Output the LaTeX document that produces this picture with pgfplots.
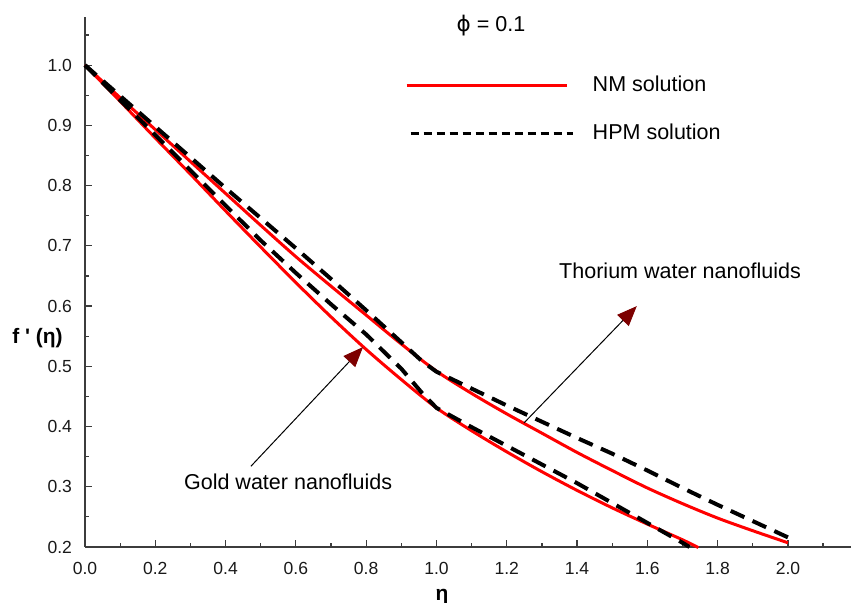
\documentclass[border=0pt]{standalone}
\usepackage{fontspec}
\setmainfont{Liberation Sans}
\newfontfamily\dejavu{DejaVu Sans}
\usepackage{pgfplots}
\pgfplotsset{compat=1.18}
\usetikzlibrary{arrows.meta}
\definecolor{axisgray}{RGB}{60,60,60}
\definecolor{maroonhead}{RGB}{125,0,0}
\definecolor{nmred}{RGB}{255,0,0}

\pgfplotstableread{
x y
0 1.000
0.1 0.946
0.2 0.893
0.3 0.840
0.4 0.787
0.5 0.734
0.6 0.682
0.7 0.633
0.8 0.585
0.9 0.537
1.0 0.492
1.1 0.455
1.2 0.421
1.3 0.389
1.4 0.357
1.5 0.327
1.6 0.298
1.7 0.272
1.8 0.248
1.9 0.227
2.0 0.207
}\thoriumNM

\pgfplotstableread{
x y
0 1.000
0.1 0.940
0.2 0.879
0.3 0.819
0.4 0.758
0.5 0.698
0.6 0.639
0.7 0.582
0.8 0.528
0.9 0.478
1.0 0.431
1.1 0.393
1.2 0.358
1.3 0.325
1.4 0.294
1.5 0.265
1.6 0.238
1.7 0.212
1.745 0.199
}\goldNM

\pgfplotstableread{
x y
0 1.000
0.2 0.898
0.4 0.796
0.6 0.696
0.7 0.645
0.8 0.593
0.9 0.540
0.96 0.508
1.0 0.491
1.05 0.477
1.1 0.463
1.2 0.435
1.3 0.408
1.4 0.381
1.5 0.355
1.6 0.327
1.7 0.298
1.8 0.270
1.9 0.243
2.0 0.216
}\thoriumHPM

\pgfplotstableread{
x y
0 1.000
0.2 0.884
0.4 0.767
0.5 0.709
0.6 0.655
0.7 0.603
0.8 0.553
0.9 0.496
0.96 0.455
1.0 0.431
1.05 0.415
1.1 0.399
1.2 0.368
1.3 0.337
1.4 0.306
1.5 0.273
1.6 0.240
1.7 0.207
1.72 0.200
}\goldHPM

\begin{document}
\begin{tikzpicture}
\begin{axis}[
  scale only axis, width=383.1bp, height=265bp,
  xmin=0, xmax=2.18, ymin=0.2, ymax=1.08,
  axis x line*=bottom, axis y line*=left,
  axis line style={axisgray, line width=0.9bp},
  xtick={0,0.2,0.4,0.6,0.8,1.0,1.2,1.4,1.6,1.8,2.0},
  minor xtick={0.1,0.3,0.5,0.7,0.9,1.1,1.3,1.5,1.7,1.9,2.1},
  ytick={0.2,0.3,0.4,0.5,0.6,0.7,0.8,0.9,1.0},
  minor ytick={0.25,0.35,0.45,0.55,0.65,0.75,0.85,0.95,1.05},
  tick style={axisgray, line width=0.6bp},
  major tick length=3.5bp, minor tick length=2bp,
  tick align=inside,
  /pgf/number format/fixed, /pgf/number format/fixed zerofill,
  /pgf/number format/precision=1,
  /pgf/number format/assume math mode=true,
  tick label style={font=\fontsize{8.8}{10}\selectfont, text=black!90},
  xticklabel style={yshift=-4bp},
  yticklabel style={xshift=-3bp},
  xlabel={\bfseries η},
  xlabel style={at={(axis description cs:0.466,0)}, anchor=center, yshift=-25bp, font=\fontsize{10.5}{12}\selectfont},
  ylabel={\bfseries f \textquotesingle\ (η)},
  ylabel style={rotate=-90, at={(axis description cs:0,0.394)}, anchor=east, inner sep=0pt, xshift=-11bp, font=\fontsize{10.5}{12}\selectfont},
  clip=false,
  legend cell align=left,
  legend style={draw=none, fill=none, at={(axis cs:0.91,0.983)}, anchor=north west,
    inner sep=0pt, row sep=15bp, font=\fontsize{10.8}{13}\selectfont,
    nodes={inner sep=0pt}},
  legend image code/.code={\draw[#1] (0bp,0bp) -- (80bp,0bp); \path[draw=none] (0bp,0bp) -- (91bp,0bp);},
]
\addplot[nmred, line width=1.5bp, smooth] table[x=x,y=y]{\thoriumNM};
\addlegendentry{NM solution}
\addplot[nmred, line width=1.5bp, smooth, forget plot] table[x=x,y=y]{\goldNM};
\addplot[black, line width=2bp, dash pattern=on 7.5bp off 4.5bp,
  legend image code/.code={\draw[black, line width=1.2bp, dash pattern=on 4.2bp off 2.3bp] (2bp,0bp) -- (83bp,0bp); \path[draw=none] (0bp,0bp) -- (93bp,0bp);}]
  table[x=x,y=y]{\thoriumHPM};
\addlegendentry{HPM solution}
\addplot[black, line width=2bp, dash pattern=on 7.5bp off 4.5bp, forget plot] table[x=x,y=y]{\goldHPM};

\node[font=\fontsize{10.8}{13}\selectfont] at (axis cs:1.155,1.066) {{\dejavu ϕ} = 0.1};
\node[font=\fontsize{10.8}{13}\selectfont] at (axis cs:1.693,0.658) {Thorium water nanofluids};
\node[font=\fontsize{10.8}{13}\selectfont] at (axis cs:0.578,0.308) {Gold water nanofluids};
\draw[black, line width=0.5bp, -{Triangle[length=10bp,width=8bp,color=maroonhead]}]
  (axis cs:1.249,0.406) -- (axis cs:1.570,0.600);
\draw[black, line width=0.5bp, -{Triangle[length=10bp,width=8bp,color=maroonhead]}]
  (axis cs:0.472,0.334) -- (axis cs:0.791,0.532);
\end{axis}
\pgfresetboundingbox
\path (-42.5bp,-28bp) rectangle (383.5bp,273.5bp);
\end{tikzpicture}
\end{document}
